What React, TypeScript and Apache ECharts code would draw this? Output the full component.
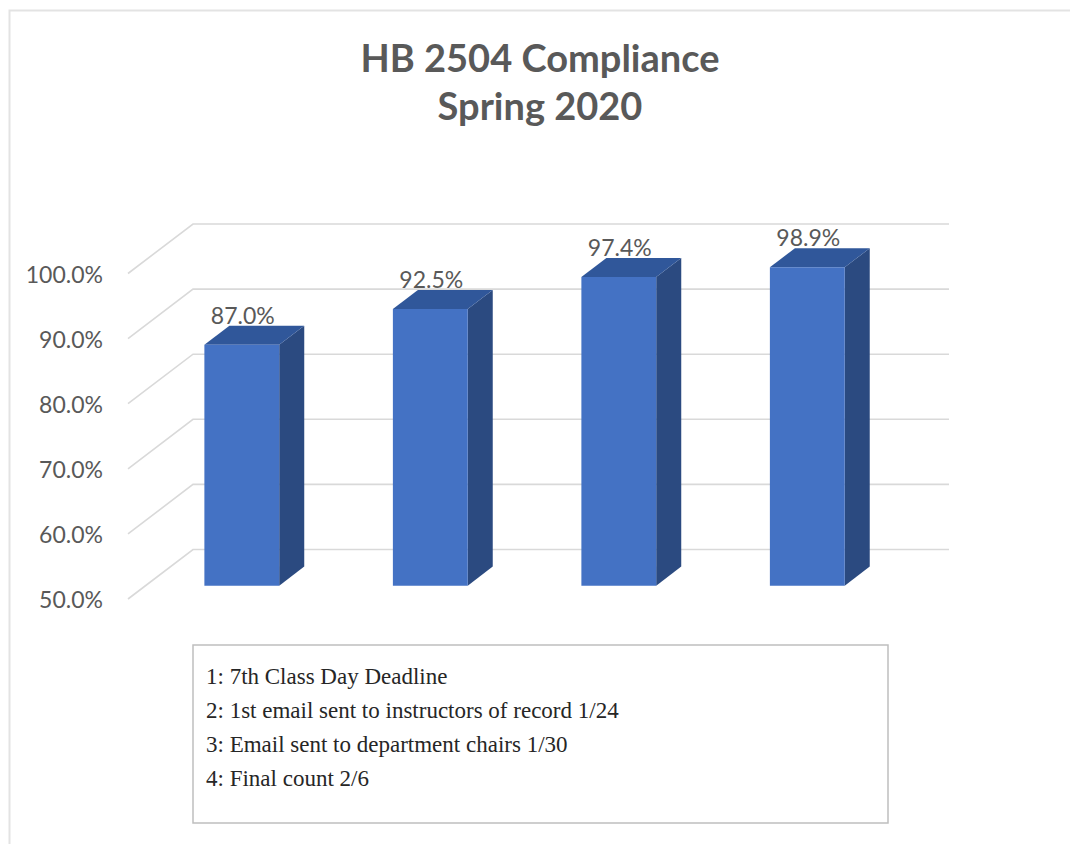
import React, { useEffect, useRef } from "react";
import * as echarts from "echarts";

const categories = ["1", "2", "3", "4"];
const compliance = [87.0, 92.5, 97.4, 98.9];
const yTicks = [50, 60, 70, 80, 90, 100];
const titleLines = ["HB 2504 Compliance", "Spring 2020"];
const notes = [
  "1: 7th Class Day Deadline",
  "2: 1st email sent to instructors of record 1/24",
  "3: Email sent to department chairs 1/30",
  "4: Final count 2/6",
];

const DEPTH_X = 65;
const DEPTH_Y = -49.5;
const BAR_FRONT = 0.27;
const BAR_BACK = 0.655;
const FRONT = "#4472C4";
const SIDE = "#2B4A80";
const TOP = "#30579A";
const LABEL = "#595959";
const SANS = "Lato, 'Open Sans', sans-serif";

export default function App() {
  const ref = useRef<HTMLDivElement>(null);
  useEffect(() => {
    const chart = echarts.init(ref.current!, null, { renderer: "svg" });

    const renderGrid = (params: any, api: any) => {
      const cs = params.coordSys;
      const y = api.coord([0, api.value(1)])[1];
      const x0 = cs.x - 2;
      const x1 = cs.x + cs.width;
      return {
        type: "polyline",
        shape: {
          points: [
            [x0, y],
            [x0 + DEPTH_X, y + DEPTH_Y],
            [x1 + DEPTH_X, y + DEPTH_Y],
          ],
        },
        style: { stroke: "#d9d9d9", lineWidth: 1.6, fill: "none" },
      };
    };

    const renderBar = (params: any, api: any) => {
      const xi = api.value(0);
      const v = api.value(1);
      const top = api.coord([xi, v]);
      const base = api.coord([xi, 50]);
      const band = api.size([1, 0])[0];
      const w = band * 0.397;
      const fx = DEPTH_X * BAR_FRONT;
      const fy = DEPTH_Y * BAR_FRONT;
      const dx = DEPTH_X * (BAR_BACK - BAR_FRONT);
      const dy = DEPTH_Y * (BAR_BACK - BAR_FRONT);
      const l = top[0] - w / 2 + fx;
      const r = top[0] + w / 2 + fx;
      const t = top[1] + fy;
      const b = base[1] + fy;
      return {
        type: "group",
        children: [
          {
            type: "polygon",
            shape: { points: [[r, t], [r + dx, t + dy], [r + dx, b + dy], [r, b]] },
            style: { fill: SIDE },
          },
          {
            type: "polygon",
            shape: { points: [[l, t], [l + dx, t + dy], [r + dx, t + dy], [r, t]] },
            style: { fill: TOP },
          },
          {
            type: "rect",
            shape: { x: l, y: t, width: w, height: b - t },
            style: { fill: FRONT },
          },
          {
            type: "text",
            style: {
              text: v.toFixed(1) + "%",
              x: (l + r) / 2 + 1,
              y: t + dy - 11,
              align: "center",
              verticalAlign: "middle",
              fill: LABEL,
              fontSize: 23,
              fontFamily: SANS,
            },
          },
        ],
      };
    };

    const graphic: any[] = [
      {
        type: "rect",
        left: 7,
        top: 8,
        shape: { x: 0, y: 0, width: 1100, height: 900 },
        style: { fill: "none", stroke: "#e3e3e3", lineWidth: 2 },
        silent: true,
        z: -10,
      },
      {
        type: "rect",
        shape: { x: 193, y: 645, width: 695, height: 178 },
        style: { fill: "#fff", stroke: "#bfbfbf", lineWidth: 1.5 },
      },
    ];
    titleLines.forEach((s, i) => {
      graphic.push({
        type: "text",
        x: 540,
        y: 57 + i * 48,
        style: {
          text: s,
          align: "center",
          verticalAlign: "middle",
          fill: LABEL,
          fontSize: 38,
          fontWeight: "bold",
          fontFamily: SANS,
        },
      });
    });
    notes.forEach((s, i) => {
      graphic.push({
        type: "text",
        x: 206,
        y: 676 + i * 34,
        style: {
          text: s,
          align: "left",
          verticalAlign: "middle",
          fill: "#262626",
          fontSize: 23,
          fontFamily: "'Liberation Serif', serif",
        },
      });
    });

    chart.setOption({
      animation: false,
      backgroundColor: "#ffffff",
      grid: { left: 130, top: 273.5, width: 754, height: 325.5 },
      xAxis: { type: "category", data: categories, show: false },
      yAxis: {
        type: "value",
        min: 50,
        max: 100,
        interval: 10,
        axisLine: { show: false },
        axisTick: { show: false },
        splitLine: { show: false },
        axisLabel: {
          formatter: (val: number) => val.toFixed(1) + "%",
          color: LABEL,
          fontSize: 23,
          fontFamily: SANS,
          margin: 27,
        },
      },
      series: [
        {
          type: "custom",
          data: yTicks.map((t) => [0, t]),
          encode: { x: 0, y: 1 },
          renderItem: renderGrid,
          silent: true,
          z: 1,
        },
        {
          type: "custom",
          data: compliance.map((v, i) => [i, v]),
          encode: { x: 0, y: 1 },
          renderItem: renderBar,
          z: 2,
        },
      ],
      graphic,
    });
    return () => chart.dispose();
  }, []);
  return (
    <div
      ref={ref}
      style={{ position: "absolute", left: 0, top: 0, width: 1070, height: 844 }}
    />
  );
}
